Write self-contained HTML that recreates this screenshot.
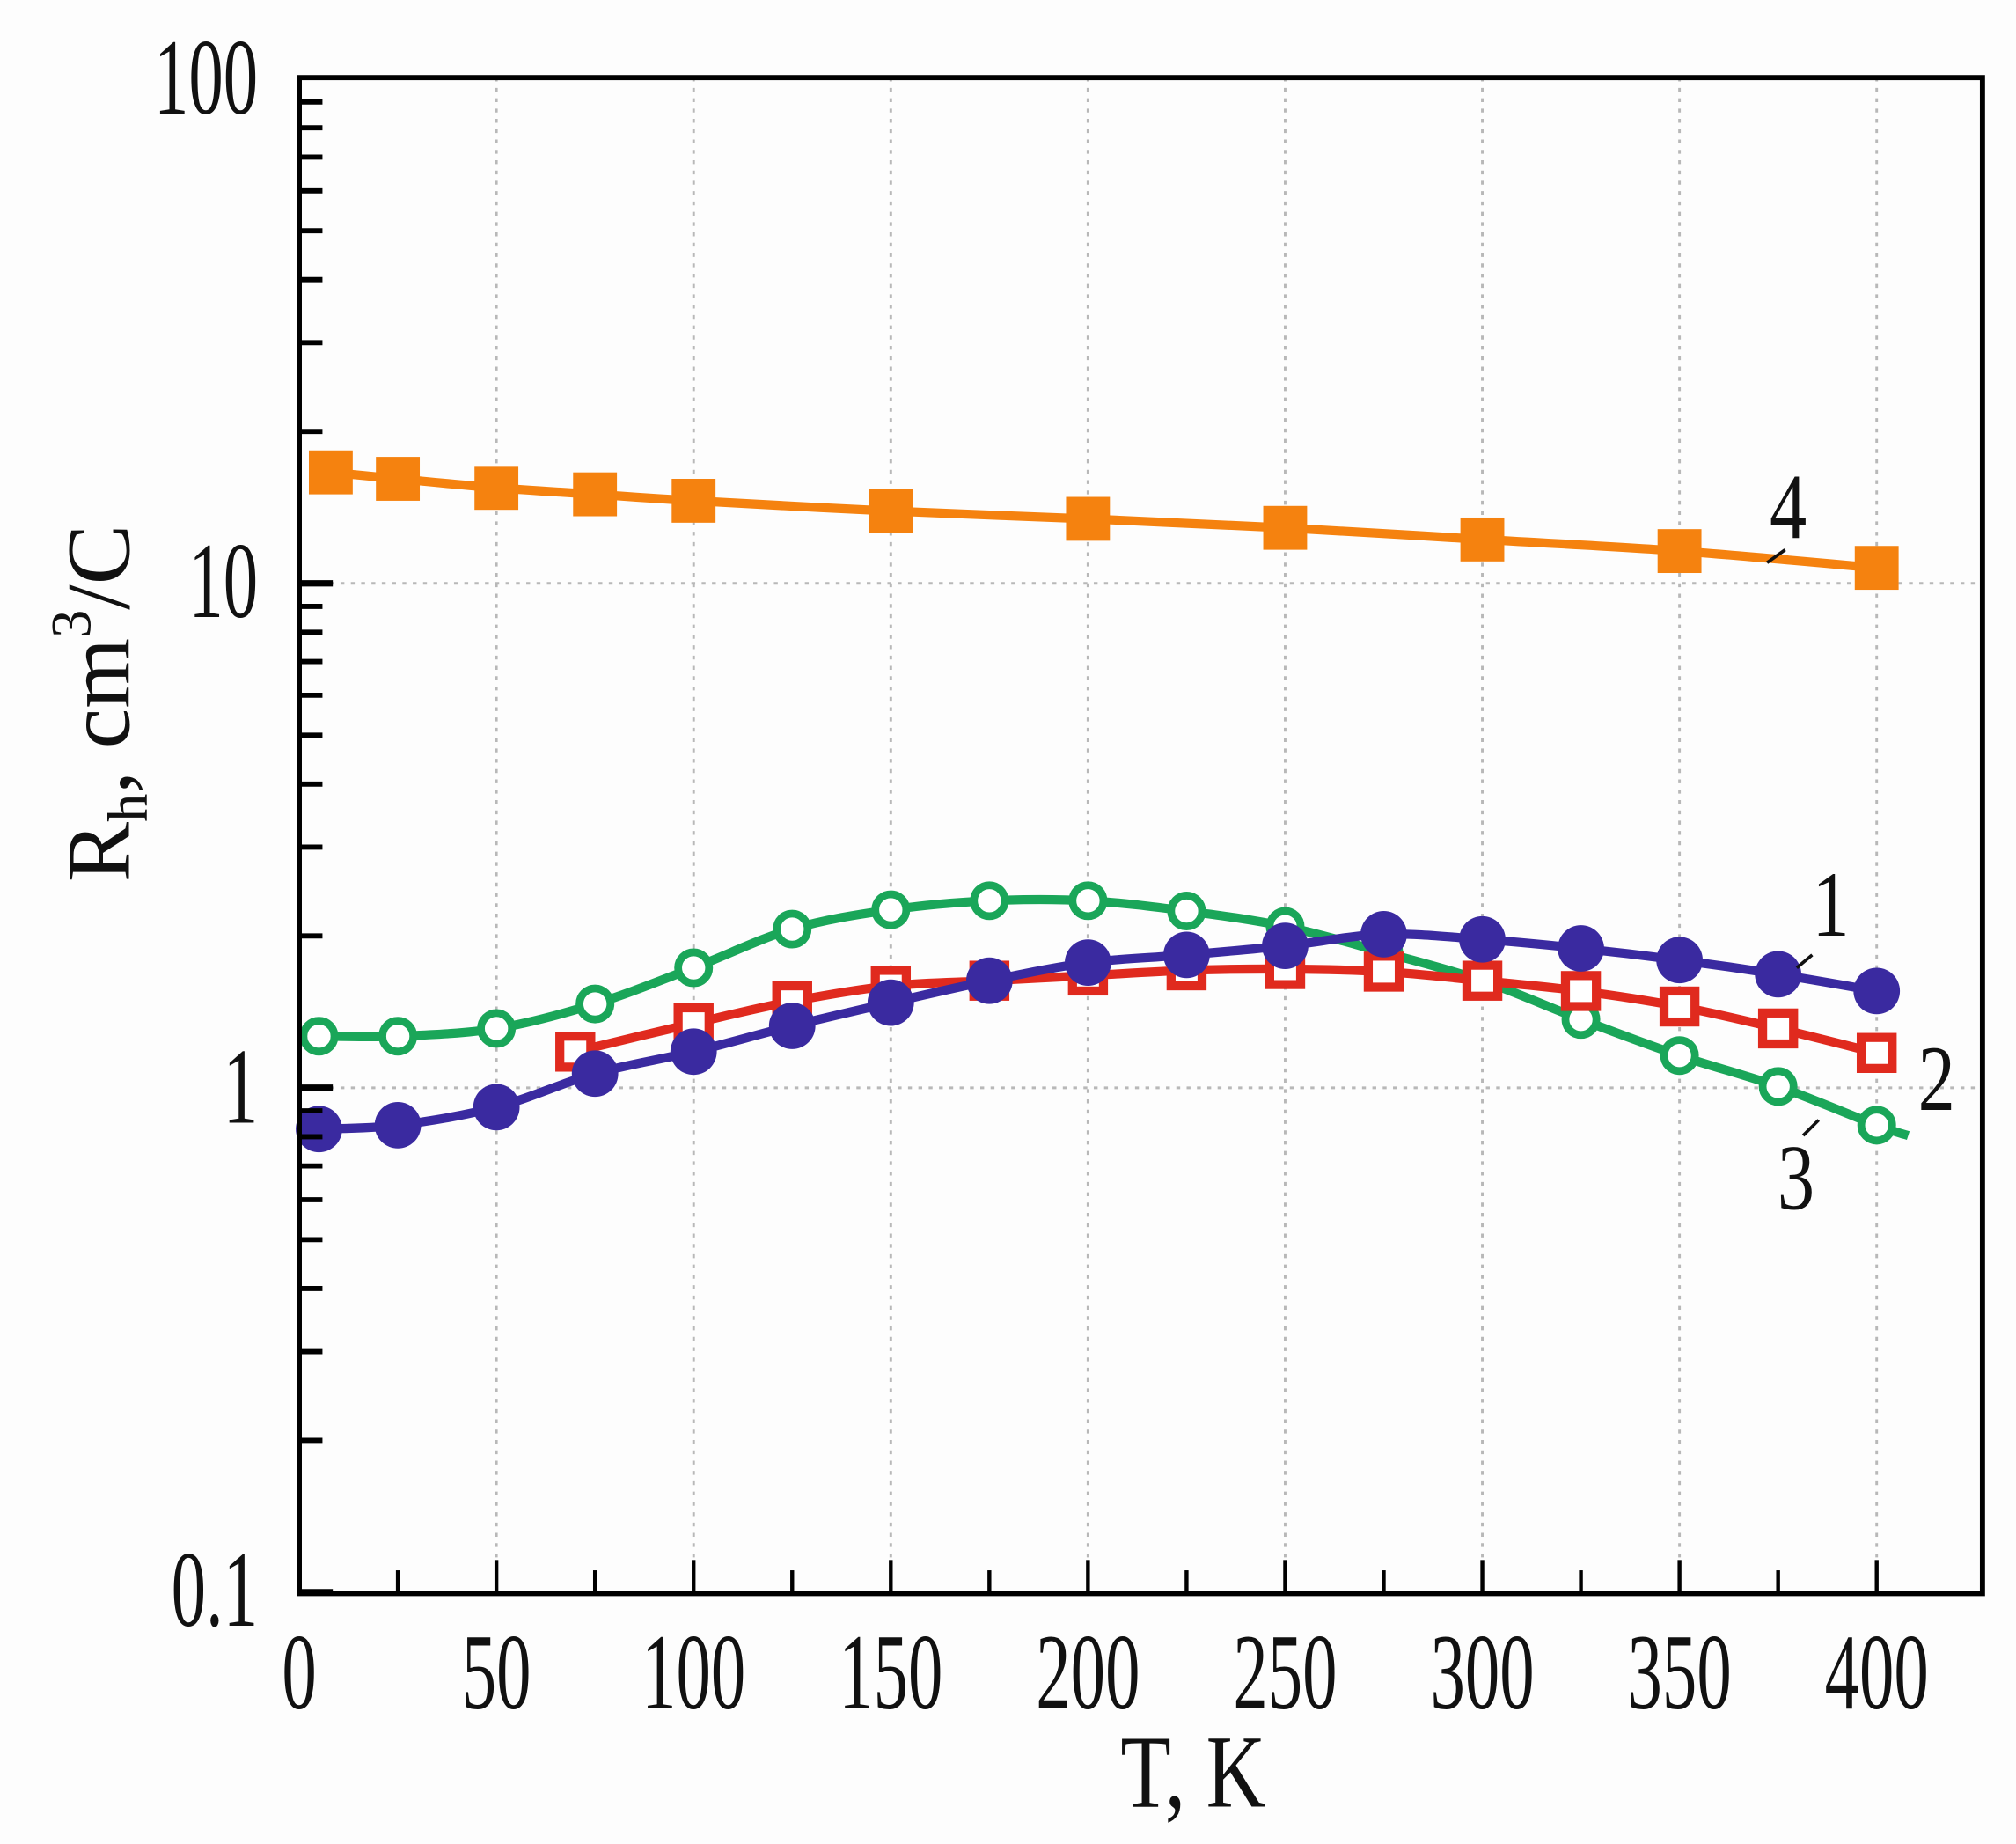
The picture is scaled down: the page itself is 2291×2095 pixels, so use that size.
<!DOCTYPE html>
<html><head><meta charset="utf-8"><style>html,body{margin:0;padding:0;background:#fdfdfd}svg{display:block}</style></head>
<body>
<svg id="s" width="2291" height="2095" viewBox="0 0 1563 1429" xmlns="http://www.w3.org/2000/svg">
<rect width="1563" height="1429" fill="#fdfdfd"/>
<g id="grid" stroke="#b8b8b8" stroke-width="2" stroke-dasharray="3,5"></g>
<g id="data"></g>
<g id="axes"></g>
<g font-family="Liberation Serif, serif" fill="#111">
<g id="labels"></g>
<text transform="translate(925,1400) scale(0.8,1)" font-size="80" text-anchor="middle">T, K</text>
<text transform="translate(100,545) rotate(-90)" font-size="70" text-anchor="middle">R<tspan font-size="44" dy="14">h</tspan><tspan dy="-14">,  cm</tspan><tspan font-size="44" dy="-30">3</tspan><tspan dy="30">/C</tspan></text>
<text transform="translate(1405,725) scale(0.8,1)" font-size="72">1</text>
<text transform="translate(1487,860) scale(0.8,1)" font-size="72">2</text>
<text transform="translate(1378,937) scale(0.8,1)" font-size="72">3</text>
<text transform="translate(1372,417) scale(0.8,1)" font-size="72">4</text>
</g>
<g stroke="#111" stroke-width="2.5">
<line x1="1405" y1="740" x2="1393" y2="750"/>
<line x1="1410" y1="868" x2="1398" y2="880"/>
<line x1="1370" y1="436" x2="1384" y2="426"/>
</g>
</svg>
<script>
const NS="http://www.w3.org/2000/svg";
const X0=232,XS=(1455-232)/400,Y1=843,DEC=391,TOP=60,BOT=1235,RIGHT=1537;
function el(p,t,a){const e=document.createElementNS(NS,t);for(const k in a)e.setAttribute(k,a[k]);p.appendChild(e);return e;}
const grid=document.getElementById('grid'),axes=document.getElementById('axes'),labels=document.getElementById('labels'),data=document.getElementById('data');
for(let t=50;t<=400;t+=50){const x=X0+t*XS;el(grid,'line',{x1:x,y1:TOP,x2:x,y2:BOT});}
[Y1-DEC,Y1].forEach(y=>el(grid,'line',{x1:X0,y1:y,x2:RIGHT,y2:y}));
el(axes,'rect',{x:X0,y:TOP,width:RIGHT-X0,height:BOT-TOP,fill:'none',stroke:'#000','stroke-width':4});
for(let d=-1;d<2;d++){for(let m=1;m<=9;m++){const y=Y1-(d+Math.log10(m))*DEC;if(y<TOP-1)continue;
 el(axes,'line',{x1:X0,y1:y,x2:X0+(m==1?26:18),y2:y,stroke:'#000','stroke-width':m==1?5:4});}}
for(let t=25;t<=400;t+=25){const x=X0+t*XS;el(axes,'line',{x1:x,y1:BOT,x2:x,y2:BOT-(t%50?18:26),stroke:'#000','stroke-width':3});}
function txt(x,y,s,anchor){const e=el(labels,'text',{transform:`translate(${x},${y}) scale(0.64,1)`,'font-size':84,'text-anchor':anchor});e.textContent=s;}
for(let t=0;t<=400;t+=50)txt(X0+t*XS,1324,String(t),'middle');
txt(200,88,'100','end');txt(200,478,'10','end');txt(200,870,'1','end');txt(200,1260,'0.1','end');
function path(pts){const P=pts.map(p=>[X0+p[0]*XS,p[1]]);let d=`M${P[0][0]},${P[0][1]}`;
 for(let i=0;i<P.length-1;i++){const p0=P[Math.max(0,i-1)],p1=P[i],p2=P[i+1],p3=P[Math.min(P.length-1,i+2)];
 d+=` C${p1[0]+(p2[0]-p0[0])/6},${p1[1]+(p2[1]-p0[1])/6} ${p2[0]-(p3[0]-p1[0])/6},${p2[1]-(p3[1]-p1[1])/6} ${p2[0]},${p2[1]}`;}return d;}
const s4=[[8,366],[25,371],[50,378],[75,383],[100,388],[150,396],[200,402],[250,409],[300,418],[350,427],[400,440]];
const s1=[[5,875],[25,872],[50,858],[75,832],[100,815],[125,795],[150,777],[175,760],[200,746],[225,740],[250,733],[275,724],[300,728],[325,735],[350,744],[375,755],[400,768]];
const s2=[[70,815],[100,793],[125,776],[150,764],[175,760],[200,756],[225,752],[250,751],[275,753],[300,760],[325,768],[350,780],[375,797],[400,816]];
const s3=[[5,803],[25,803],[50,797],[75,778],[100,750],[125,720],[150,705],[175,698],[200,698],[225,706],[250,718],[275,738],[300,760],[325,790],[350,818],[375,842],[400,872],[408,880]];
function series(pts,col,mk){el(data,'path',{d:path(pts),fill:'none',stroke:col,'stroke-width':7});
 pts.forEach((p,i)=>{if(pts===s3&&i==pts.length-1)return;const x=X0+p[0]*XS,y=p[1];
 if(mk=='fs')el(data,'rect',{x:x-17,y:y-17,width:34,height:34,fill:col});
 if(mk=='fc')el(data,'circle',{cx:x,cy:y,r:18,fill:col});
 if(mk=='os')el(data,'rect',{x:x-12,y:y-12,width:24,height:24,fill:'#fff',stroke:col,'stroke-width':7});
 if(mk=='oc')el(data,'circle',{cx:x,cy:y,r:12,fill:'#fff',stroke:col,'stroke-width':6});});}
series(s3,'#1aa659','oc');series(s2,'#e02a1e','os');series(s1,'#3a2aa0','fc');series(s4,'#f5820f','fs');
</script>
</body></html>
